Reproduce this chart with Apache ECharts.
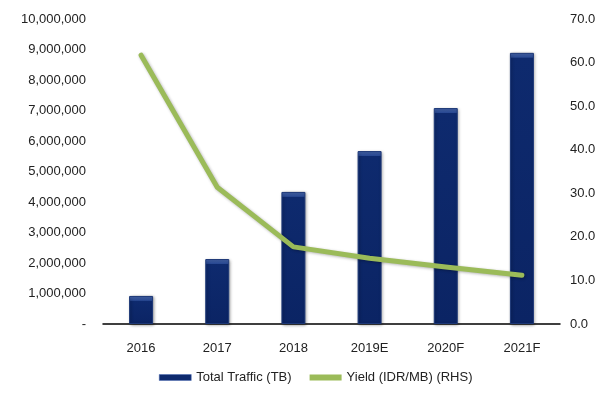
<!DOCTYPE html>
<html>
<head>
<meta charset="utf-8">
<script src="https://cdn.jsdelivr.net/npm/echarts@6/dist/echarts.min.js"></script>
<style>
  html, body { margin: 0; padding: 0; background: #fff; }
  #chart { width: 600px; height: 393px; }
</style>
</head>
<body>
<div id="chart"></div>
<script>
// Categories and series
const years = ['2016', '2017', '2018', '2019E', '2020F', '2021F'];
const totalTraffic = [920000, 2130000, 4330000, 5670000, 7080000, 8890000];
const yieldIdrMb = [61.7, 31.4, 17.7, 15.1, 13.1, 11.2];

const fontFamily = "'Liberation Sans', Arial, sans-serif";
const trafficMax = 10000000;
const plotHeight = 305;

// Bevelled bar look: a lighter band along the top few pixels of each bar
function barStyle(value) {
  const h = value / trafficMax * plotHeight;
  const bevel = Math.min(0.5, 5 / h);
  return {
    color: new echarts.graphic.LinearGradient(0, 0, 0, 1, [
      { offset: 0, color: '#4a6bb4' },
      { offset: bevel * 0.9, color: '#2a4a94' },
      { offset: bevel, color: '#0e2a6e' },
      { offset: 1, color: '#0b2464' }
    ])
  };
}

const chart = echarts.init(document.getElementById('chart'));

chart.setOption({
  animation: false,
  backgroundColor: '#ffffff',
  textStyle: { fontFamily: fontFamily },
  grid: { left: 103, right: 40, top: 19, bottom: 69 },
  legend: {
    bottom: 4,
    left: 154,
    itemGap: 18,
    itemWidth: 32,
    itemHeight: 6,
    textStyle: { fontSize: 13, color: '#222', fontFamily: fontFamily },
    data: [
      { name: 'Total Traffic (TB)', icon: 'rect', itemStyle: { color: '#0e2a6e', borderColor: '#4a6bb4', borderWidth: 0.5 } },
      { name: 'Yield (IDR/MB) (RHS)', icon: 'rect', itemStyle: { color: '#9bbb59' } }
    ]
  },
  xAxis: {
    type: 'category',
    data: years,
    axisLine: { show: true, lineStyle: { color: '#000', width: 1.5 } },
    axisTick: { show: false },
    axisLabel: { fontSize: 13, color: '#222', margin: 18 }
  },
  yAxis: [
    {
      type: 'value',
      min: 0,
      max: trafficMax,
      interval: 1000000,
      position: 'left',
      splitLine: { show: false },
      axisLine: { show: false },
      axisTick: { show: false },
      axisLabel: {
        fontSize: 13,
        color: '#222',
        margin: 17,
        formatter: function (v) {
          return v === 0 ? '-' : v.toLocaleString('en-US');
        }
      }
    },
    {
      type: 'value',
      min: 0,
      max: 70,
      interval: 10,
      position: 'right',
      splitLine: { show: false },
      axisLine: { show: false },
      axisTick: { show: false },
      axisLabel: {
        fontSize: 13,
        color: '#222',
        margin: 10,
        formatter: function (v) { return v.toFixed(1); }
      }
    }
  ],
  series: [
    {
      name: 'Total Traffic (TB)',
      type: 'bar',
      yAxisIndex: 0,
      barWidth: 24,
      data: totalTraffic.map(function (v) {
        return { value: v, itemStyle: barStyle(v) };
      }),
      itemStyle: {
        color: '#0e2a6e',
        borderColor: '#1d3877',
        borderWidth: 1,
        shadowColor: 'rgba(0,0,0,0.35)',
        shadowBlur: 3,
        shadowOffsetX: 1,
        shadowOffsetY: 1
      }
    },
    {
      name: 'Yield (IDR/MB) (RHS)',
      type: 'line',
      yAxisIndex: 1,
      data: yieldIdrMb,
      symbol: 'none',
      lineStyle: {
        color: '#9bbb59',
        width: 5,
        cap: 'round',
        join: 'round',
        shadowColor: 'rgba(0,0,0,0.3)',
        shadowBlur: 3,
        shadowOffsetX: 1,
        shadowOffsetY: 1
      },
      itemStyle: { color: '#9bbb59' },
      z: 3
    }
  ]
});
</script>
</body>
</html>
